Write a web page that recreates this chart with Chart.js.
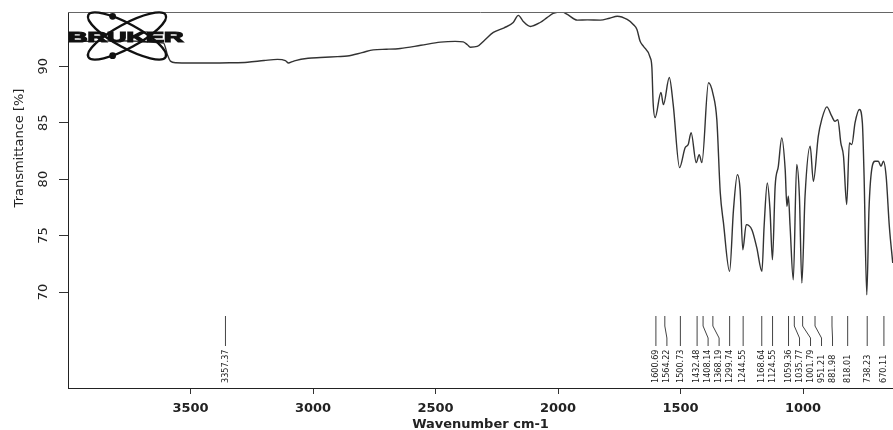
<!DOCTYPE html>
<html><head><meta charset="utf-8">
<script src="https://cdn.jsdelivr.net/npm/chart.js@4.4.1/dist/chart.umd.min.js"></script>
<style>html,body{margin:0;padding:0;background:#fff}#wrap{width:893px;height:430px;position:relative}</style>
</head><body><div id="wrap"><canvas id="c"></canvas></div>
<script>
// ---- data ----
const wavenumbers = [4000,3900,3800,3700,3635,3610,3594,3582,3560,3500,3418,3340,3267,3200,3145,3113,3100,3085,3072,3020,2970,2900,2860,2800,2754,2700,2644,2560,2480,2420,2387,2370,2358,2330,2300,2264,2220,2183,2162,2142,2113,2073,2045,2020,1983,1962,1922,1880,1828,1790,1758,1718,1693,1678,1665,1652,1624,1617,1612,1604,1580,1570,1546,1530,1504,1481,1469,1457,1436,1424,1413,1386,1367,1352,1338,1325,1300,1284,1268,1257,1246,1232,1209,1189,1168,1159,1146,1135,1125,1114,1101,1087,1073,1066,1060,1053,1040,1026,1015,1005,992,971,958,938,924,903,883,870,858,846,835,822,811,801,788,770,758,751,740,731,720,706,693,682,672,661,648,634];
const transmittance = [92.25,92.2,92.25,92.2,92.1,92.05,91.0,90.45,90.3,90.28,90.28,90.3,90.35,90.5,90.6,90.5,90.28,90.4,90.5,90.7,90.77,90.85,90.9,91.2,91.45,91.5,91.57,91.85,92.13,92.2,92.15,91.9,91.68,91.75,92.3,92.99,93.4,93.87,94.5,93.96,93.52,93.87,94.3,94.67,94.79,94.58,94.08,94.1,94.08,94.25,94.43,94.14,93.7,93.25,92.2,91.77,90.77,89.88,86.78,85.45,87.67,86.6,89.0,86.6,81.02,82.8,83.06,84.12,81.46,82.17,81.46,88.53,87.49,85.27,78.8,76.14,71.83,77.3,80.4,79.07,73.75,75.97,75.52,73.93,71.83,75.82,79.66,77.3,72.86,79.36,81.13,83.65,80.84,77.59,78.48,75.82,71.09,81.29,78.48,70.8,78.48,82.91,79.8,83.79,85.27,86.4,85.57,85.12,85.27,83.21,82.02,77.74,83.21,83.06,84.98,86.16,84.98,80.25,69.76,77.3,80.84,81.58,81.58,81.13,81.58,80.25,75.82,72.57];
const peakPositions = [3357.37,1600.69,1564.22,1500.73,1432.48,1408.14,1368.19,1299.74,1244.55,1168.64,1124.55,1059.36,1035.77,1001.79,951.21,881.98,818.01,738.23,670.11];
const xTickValues = [3500,3000,2500,2000,1500,1000];
const yTickValues = [70,75,80,85,90];
const xAxisTitle = 'Wavenumber cm-1';
const yAxisTitle = 'Transmittance [%]';
const logoText = 'BRUKER';

const FONT = '"DejaVu Sans", Verdana, sans-serif';
const FONT_COND = '"DejaVu Sans Condensed", "DejaVu Sans", sans-serif';
const FONT_LOGO = '"Liberation Sans", Arial, sans-serif';

const points = wavenumbers.map((w,i)=>({x:w, y:transmittance[i]}));

const decor = {
  id:'decor',
  afterDraw(chart){
    const {ctx, chartArea:a, scales:{x,y}} = chart;
    ctx.save();
    // top frame line
    ctx.strokeStyle='#666'; ctx.lineWidth=1;
    ctx.beginPath(); ctx.moveTo(a.left, a.top+0.5); ctx.lineTo(a.right, a.top+0.5); ctx.stroke();
    // rotated y tick labels
    ctx.fillStyle='#222';
    ctx.font='13px '+FONT;
    ctx.textAlign='center'; ctx.textBaseline='middle';
    yTickValues.forEach(v=>{
      const py=y.getPixelForValue(v);
      ctx.save(); ctx.translate(a.left-24, py); ctx.rotate(-Math.PI/2); ctx.fillText(String(v),0,0); ctx.restore();
    });
    // y title
    ctx.save(); ctx.translate(20, 148); ctx.rotate(-Math.PI/2);
    ctx.font='13px '+FONT; ctx.fillText(yAxisTitle,0,0); ctx.restore();
    // peak markers
    ctx.strokeStyle='#444'; ctx.lineWidth=1;
    ctx.font='9px '+FONT_COND;
    let prev=-Infinity;
    peakPositions.slice().sort((p,q)=>q-p).forEach(p=>{
      const px=x.getPixelForValue(p);
      const lx=Math.max(px, prev+11);
      prev=lx;
      ctx.beginPath();
      if (lx-px<0.5){ ctx.moveTo(px,316); ctx.lineTo(px,346); }
      else { ctx.moveTo(px,316); ctx.lineTo(px,326); ctx.lineTo(lx,338); ctx.lineTo(lx,346); }
      ctx.stroke();
      ctx.save(); ctx.translate(lx,383); ctx.rotate(-Math.PI/2);
      ctx.textAlign='left'; ctx.textBaseline='middle'; ctx.fillText(p.toFixed(2),0,0); ctx.restore();
    });
    // logo
    const cx=127, cy=36, ra=44, rb=12, th=28.5*Math.PI/180;
    ctx.strokeStyle='#111'; ctx.lineWidth=2.4;
    [th,-th].forEach(r=>{ ctx.beginPath(); ctx.ellipse(cx,cy,ra,rb,r,0,Math.PI*2); ctx.stroke(); });
    const dot=(r,t)=>{
      const px=cx+ra*Math.cos(t)*Math.cos(r)-rb*Math.sin(t)*Math.sin(r);
      const py=cy+ra*Math.cos(t)*Math.sin(r)+rb*Math.sin(t)*Math.cos(r);
      ctx.beginPath(); ctx.arc(px,py,3.4,0,Math.PI*2); ctx.fillStyle='#111'; ctx.fill();
    };
    dot(th,-2*Math.PI/3); dot(-th,2*Math.PI/3);
    ctx.save(); ctx.translate(a.left,42); ctx.scale(1.8,1);
    ctx.font='bold 15px '+FONT_LOGO; ctx.textAlign='left'; ctx.textBaseline='alphabetic';
    ctx.fillStyle='#111'; ctx.strokeStyle='#111'; ctx.lineWidth=1.2;
    ctx.fillText(logoText,0,0); ctx.strokeText(logoText,0,0); ctx.restore();
    ctx.restore();
  }
};

new Chart(document.getElementById('c'), {
  type:'line',
  data:{datasets:[{data:points, borderColor:'#333', borderWidth:1.4, pointRadius:0, fill:false, cubicInterpolationMode:'monotone'}]},
  options:{
    responsive:true, maintainAspectRatio:false, animation:false, devicePixelRatio:1,
    layout:{padding:{left:0,right:0,top:12,bottom:0}},
    plugins:{legend:{display:false}, tooltip:{enabled:false}},
    scales:{
      x:{type:'linear', reverse:true, min:633, max:4000,
        afterBuildTicks(s){ s.ticks = xTickValues.map(v=>({value:v})); },
        afterFit(s){ s.height = 42; },
        grid:{display:true, drawOnChartArea:false, drawTicks:true, tickLength:6, color:'#333'},
        border:{display:true, color:'#222', width:1},
        ticks:{font:{family:FONT, size:13, weight:'bold'}, color:'#222', padding:7, maxRotation:0, autoSkip:false, callback:v=>String(v)},
        title:{display:true, text:xAxisTitle, font:{family:FONT, size:13, weight:'bold'}, color:'#222', padding:{top:0,bottom:-2}}
      },
      y:{type:'linear', min:61.5, max:94.8,
        afterBuildTicks(s){ s.ticks = yTickValues.map(v=>({value:v})); },
        afterFit(s){ s.width = 68; },
        grid:{display:true, drawOnChartArea:false, drawTicks:true, tickLength:9, color:'#333'},
        border:{display:true, color:'#222', width:1},
        ticks:{display:false}
      }
    }
  },
  plugins:[decor]
});
</script>
</body></html>
